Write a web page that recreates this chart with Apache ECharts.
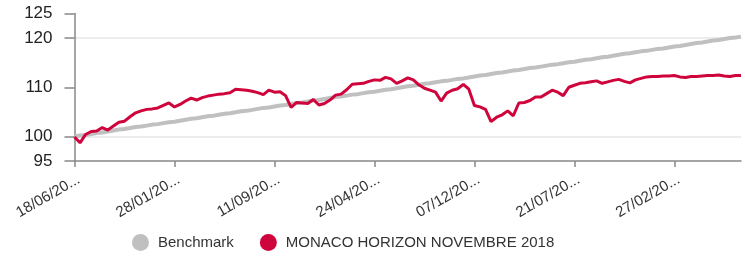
<!DOCTYPE html>
<html>
<head>
<meta charset="utf-8">
<script src="https://cdn.jsdelivr.net/npm/echarts@6/dist/echarts.min.js"></script>
<style>
html,body{margin:0;padding:0;background:#fff;}
#chart{width:745px;height:260px;}
</style>
</head>
<body>
<div id="chart"></div>
<script>
var categories = [
'18/06/2018','01/07/2018','13/07/2018','26/07/2018','07/08/2018','20/08/2018','01/09/2018','14/09/2018','26/09/2018','09/10/2018',
'21/10/2018','03/11/2018','15/11/2018','28/11/2018','10/12/2018','23/12/2018','04/01/2019','16/01/2019','28/01/2019','10/02/2019',
'22/02/2019','07/03/2019','19/03/2019','01/04/2019','13/04/2019','26/04/2019','08/05/2019','21/05/2019','02/06/2019','15/06/2019',
'27/06/2019','10/07/2019','22/07/2019','04/08/2019','16/08/2019','29/08/2019','11/09/2019','24/09/2019','06/10/2019','19/10/2019',
'31/10/2019','13/11/2019','25/11/2019','08/12/2019','20/12/2019','02/01/2020','14/01/2020','27/01/2020','08/02/2020','21/02/2020',
'04/03/2020','17/03/2020','29/03/2020','11/04/2020','24/04/2020','07/05/2020','19/05/2020','01/06/2020','13/06/2020','26/06/2020',
'08/07/2020','21/07/2020','02/08/2020','15/08/2020','27/08/2020','09/09/2020','21/09/2020','04/10/2020','16/10/2020','29/10/2020',
'11/11/2020','24/11/2020','07/12/2020','20/12/2020','01/01/2021','14/01/2021','26/01/2021','08/02/2021','20/02/2021','05/03/2021',
'17/03/2021','30/03/2021','11/04/2021','24/04/2021','06/05/2021','19/05/2021','31/05/2021','13/06/2021','25/06/2021','08/07/2021',
'21/07/2021','02/08/2021','14/08/2021','27/08/2021','08/09/2021','20/09/2021','03/10/2021','15/10/2021','27/10/2021','09/11/2021',
'21/11/2021','03/12/2021','16/12/2021','28/12/2021','09/01/2022','22/01/2022','03/02/2022','15/02/2022','27/02/2022','11/03/2022',
'23/03/2022','04/04/2022','16/04/2022','28/04/2022','10/05/2022','22/05/2022','03/06/2022','15/06/2022','27/06/2022','09/07/2022',
'21/07/2022'
];

var benchmark = [
100.0,100.2,100.3,100.5,100.7,100.8,101.0,101.2,101.4,101.5,
101.7,101.9,102.0,102.2,102.4,102.5,102.7,102.9,103.0,103.2,
103.4,103.6,103.7,103.9,104.1,104.2,104.4,104.6,104.7,104.9,
105.1,105.2,105.4,105.6,105.8,105.9,106.1,106.3,106.4,106.6,
106.8,106.9,107.1,107.3,107.4,107.6,107.8,108.0,108.1,108.3,
108.5,108.6,108.8,109.0,109.1,109.3,109.5,109.6,109.8,110.0,
110.2,110.3,110.5,110.7,110.8,111.0,111.2,111.3,111.5,111.7,
111.8,112.0,112.2,112.4,112.5,112.7,112.9,113.0,113.2,113.4,
113.5,113.7,113.9,114.0,114.2,114.4,114.6,114.7,114.9,115.1,
115.2,115.4,115.6,115.7,115.9,116.1,116.2,116.4,116.6,116.8,
116.9,117.1,117.3,117.4,117.6,117.8,117.9,118.1,118.3,118.4,
118.6,118.8,119.0,119.1,119.3,119.5,119.6,119.8,120.0,120.1,
120.3
];

var fund = [
99.9,98.7,100.4,101.0,101.1,101.8,101.3,102.1,102.9,103.1,
104.0,104.8,105.2,105.5,105.6,105.8,106.3,106.8,106.0,106.5,
107.2,107.8,107.4,107.9,108.2,108.4,108.6,108.7,108.9,109.6,
109.5,109.4,109.2,108.9,108.5,109.4,109.0,109.1,108.3,105.9,
106.9,106.8,106.7,107.5,106.4,106.7,107.4,108.4,108.6,109.5,
110.6,110.7,110.8,111.2,111.5,111.4,112.0,111.7,110.8,111.3,
111.9,111.5,110.5,109.8,109.4,109.0,107.2,108.8,109.4,109.7,
110.6,109.6,106.3,106.0,105.5,103.0,103.9,104.4,105.2,104.2,
106.8,106.9,107.3,108.0,108.0,108.7,109.4,109.0,108.3,110.0,
110.4,110.8,110.9,111.1,111.3,110.8,111.1,111.4,111.6,111.2,
110.9,111.5,111.8,112.1,112.2,112.2,112.3,112.3,112.4,112.1,
112.0,112.2,112.2,112.3,112.4,112.4,112.5,112.3,112.2,112.4,
112.4
];

var yTickValues = [95, 100, 110, 120, 125];
var seriesNames = ['Benchmark', 'MONACO HORIZON NOVEMBRE 2018'];

var FONT = "'Liberation Sans', Arial, sans-serif";
var chart = echarts.init(document.getElementById('chart'), null, {renderer: 'canvas'});
chart.setOption({
  animation: false,
  backgroundColor: '#ffffff',
  textStyle: {fontFamily: FONT},
  grid: {left: 74.5, right: 4, top: 13.5, bottom: 99, containLabel: false, outerBoundsMode: 'none'},
  legend: {
    data: seriesNames,
    left: 127, top: 229,
    icon: 'circle',
    itemWidth: 17, itemHeight: 17, itemGap: 26,
    textStyle: {fontFamily: FONT, fontSize: 15, color: '#333333', padding: [0, 0, 0, 4]}
  },
  xAxis: {
    type: 'category',
    data: categories,
    boundaryGap: false,
    axisLine: {lineStyle: {color: '#888888', width: 1.5}},
    axisTick: {interval: 17, length: 6, lineStyle: {color: '#888888', width: 1.5}},
    axisLabel: {
      interval: 17, rotate: 30, margin: 20,
      fontFamily: FONT, fontSize: 15, color: '#333333',
      width: 74, overflow: 'truncate', ellipsis: '...',
      padding: [0, -5, 0, 0],
      hideOverlap: false
    },
    splitLine: {show: false}
  },
  yAxis: {
    type: 'value',
    min: 95, max: 125, interval: 5,
    axisLine: {show: true, lineStyle: {color: '#888888', width: 1.5}},
    axisTick: {show: true, length: 10, customValues: yTickValues, lineStyle: {color: '#888888', width: 1.5}},
    axisLabel: {margin: 22, customValues: yTickValues, fontFamily: FONT, fontSize: 17, color: '#222222'},
    splitLine: {show: true, lineStyle: {color: ['rgba(0,0,0,0)', '#e6e6e6', 'rgba(0,0,0,0)', '#e6e6e6', 'rgba(0,0,0,0)', '#e6e6e6', '#e6e6e6'], width: 1.5}}
  },
  series: [
    {name: seriesNames[0], type: 'line', data: benchmark, showSymbol: false, symbol: 'circle',
     itemStyle: {color: '#c0c0c0'}, lineStyle: {color: '#c0c0c0', width: 4}, z: 2},
    {name: seriesNames[1], type: 'line', data: fund, showSymbol: false, symbol: 'circle',
     itemStyle: {color: '#d0043c'}, lineStyle: {color: '#d0043c', width: 3}, z: 3}
  ]
});
</script>
</body>
</html>
